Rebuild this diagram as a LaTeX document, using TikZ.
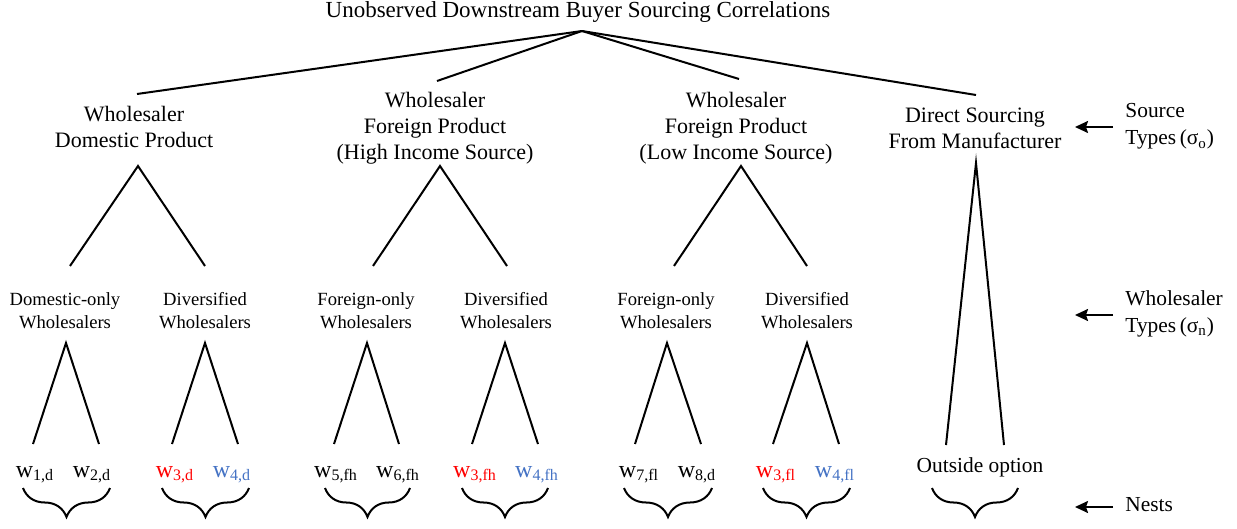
\documentclass[tikz,border=0pt]{standalone}
\usepackage{fontspec}
\setmainfont{Liberation Serif}
\usetikzlibrary{decorations.pathreplacing,arrows.meta}
\definecolor{divred}{RGB}{255,0,0}
\definecolor{divblue}{RGB}{68,114,196}
\newcommand{\fork}[3]{
    % #1 = apex, #2 = left foot, #3 = right foot
    \draw[branch] (#2) -- (#1) -- (#3);
}

\begin{document}
\begin{tikzpicture}[x=0.5pt,y=-0.5pt,
    lbl/.style={align=center,font=\fontsize{11}{13}\selectfont,inner sep=0pt},
    sublbl/.style={align=center,font=\fontsize{9.3}{11.5}\selectfont,inner sep=0pt},
    leaf/.style={anchor=base,font=\fontsize{12}{14}\selectfont,inner sep=0pt},
    tag/.style={align=left,anchor=west,font=\fontsize{10.7}{13.5}\selectfont,inner sep=0pt},
    branch/.style={line width=1pt,line join=miter},
    nest/.style={line width=1pt,decorate,decoration={brace,mirror,amplitude=14.5pt}},
    pointer/.style={-{Stealth[length=6.5pt,width=6pt,inset=1pt]},line width=1pt}]

\useasboundingbox (0,0) rectangle (1237,529);

% Root and source types
\node[lbl,anchor=base,font=\fontsize{11.5}{13}\selectfont] (root) at (578,18) {Unobserved Downstream Buyer Sourcing Correlations};
\coordinate (rootB) at (582,31);

\node[lbl] (dom)  at (134,127) {Wholesaler\\Domestic Product};
\node[lbl] (high) at (435,128) {Wholesaler\\Foreign Product\\(High Income Source)};
\node[lbl] (low)  at (736,128) {Wholesaler\\Foreign Product\\(Low Income Source)};
\node[lbl] (dir)  at (975,128) {Direct Sourcing\\From Manufacturer};

\coordinate (domT)  at (137,94);
\coordinate (highT) at (437,81);
\coordinate (lowT)  at (739,79);
\coordinate (dirT)  at (976,95);
\draw[branch] (rootB) -- (domT);
\draw[branch] (rootB) -- (highT);
\draw[branch] (rootB) -- (lowT);
\draw[branch] (rootB) -- (dirT);

% Wholesaler types
\node[sublbl] (domOnly)  at (65,311)  {Domestic-only\\Wholesalers};
\node[sublbl] (domDiv)   at (205,311) {Diversified\\Wholesalers};
\node[sublbl] (highOnly) at (366,311) {Foreign-only\\Wholesalers};
\node[sublbl] (highDiv)  at (506,311) {Diversified\\Wholesalers};
\node[sublbl] (lowOnly)  at (666,311) {Foreign-only\\Wholesalers};
\node[sublbl] (lowDiv)   at (807,311) {Diversified\\Wholesalers};

\coordinate (domA)  at (138,166);
\coordinate (domL)  at (70,266);
\coordinate (domR)  at (205,266);
\coordinate (highA) at (440,166);
\coordinate (highL) at (373,266);
\coordinate (highR) at (507,266);
\coordinate (lowA)  at (741,166);
\coordinate (lowL)  at (674,266);
\coordinate (lowR)  at (807,266);
\coordinate (dirA)  at (976,163);
\coordinate (dirL)  at (946,445);
\coordinate (dirR)  at (1004,445);
\fork{domA}{domL}{domR}
\fork{highA}{highL}{highR}
\fork{lowA}{lowL}{lowR}
\fork{dirA}{dirL}{dirR}

% Individual wholesalers
\node[leaf] (w1d)  at (35,477)  {w\textsubscript{1,d}};
\node[leaf] (w2d)  at (92,477)  {w\textsubscript{2,d}};
\node[leaf,text=divred]  (w3d) at (175,477) {w\textsubscript{3,d}};
\node[leaf,text=divblue] (w4d) at (232,477) {w\textsubscript{4,d}};
\node[leaf] (w5fh) at (336,477) {w\textsubscript{5,fh}};
\node[leaf] (w6fh) at (398,477) {w\textsubscript{6,fh}};
\node[leaf,text=divred]  (w3fh) at (475,477) {w\textsubscript{3,fh}};
\node[leaf,text=divblue] (w4fh) at (537,477) {w\textsubscript{4,fh}};
\node[leaf] (w7fl) at (639,477) {w\textsubscript{7,fl}};
\node[leaf] (w8d)  at (697,477) {w\textsubscript{8,d}};
\node[leaf,text=divred]  (w3fl) at (776,477) {w\textsubscript{3,fl}};
\node[leaf,text=divblue] (w4fl) at (835,477) {w\textsubscript{4,fl}};
\node[leaf,font=\fontsize{10.7}{13}\selectfont] (outside) at (980,472) {Outside option};

\coordinate (domOnlyA)  at (66,343);
\coordinate (domOnlyL)  at (33,444);
\coordinate (domOnlyR)  at (99,444);
\coordinate (domDivA)   at (205,343);
\coordinate (domDivL)   at (172,444);
\coordinate (domDivR)   at (238,444);
\coordinate (highOnlyA) at (367,343);
\coordinate (highOnlyL) at (334,444);
\coordinate (highOnlyR) at (399,444);
\coordinate (highDivA)  at (505,343);
\coordinate (highDivL)  at (472,444);
\coordinate (highDivR)  at (538,444);
\coordinate (lowOnlyA)  at (667,343);
\coordinate (lowOnlyL)  at (635,444);
\coordinate (lowOnlyR)  at (701,444);
\coordinate (lowDivA)   at (807,343);
\coordinate (lowDivL)   at (773,444);
\coordinate (lowDivR)   at (839,444);
\fork{domOnlyA}{domOnlyL}{domOnlyR}
\fork{domDivA}{domDivL}{domDivR}
\fork{highOnlyA}{highOnlyL}{highOnlyR}
\fork{highDivA}{highDivL}{highDivR}
\fork{lowOnlyA}{lowOnlyL}{lowOnlyR}
\fork{lowDivA}{lowDivL}{lowDivR}

% Nests
\draw[nest] (23,488)  -- (110,488);
\draw[nest] (162,488) -- (249,488);
\draw[nest] (325,488) -- (410,488);
\draw[nest] (462,488) -- (548,488);
\draw[nest] (624,488) -- (712,488);
\draw[nest] (763,488) -- (850,488);
\draw[nest] (932,488) -- (1018,488);

% Level tags on the right
\node[tag] (srcTag)  at (1125,126.5) {Source\\Types\,(σ\textsubscript{o})};
\node[tag] (typeTag) at (1125,313.5) {Wholesaler\\Types\,(σ\textsubscript{n})};
\node[tag] (nestTag) at (1125,505)   {Nests};

\coordinate (srcP)  at (1075,127);
\coordinate (typeP) at (1075,315);
\coordinate (nestP) at (1075,507);
\draw[pointer] (1113,127) -- (srcP);
\draw[pointer] (1113,315) -- (typeP);
\draw[pointer] (1113,507) -- (nestP);

\end{tikzpicture}
\end{document}
